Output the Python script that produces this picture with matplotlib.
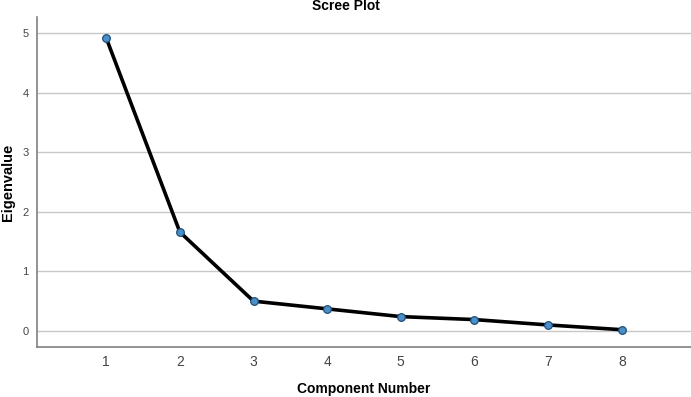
import matplotlib.pyplot as plt

plt.rcParams['font.family'] = ['Liberation Sans', 'DejaVu Sans']

components = [1, 2, 3, 4, 5, 6, 7, 8]
eigenvalues = [4.92, 1.66, 0.50, 0.37, 0.24, 0.19, 0.10, 0.02]
y_ticks = [0, 1, 2, 3, 4, 5]

fig = plt.figure(figsize=(6.91, 3.97), dpi=100)
ax = fig.add_axes([0.0535, 0.126, 0.9465, 0.831])

ax.plot(components, eigenvalues, color='black', linewidth=2.6, zorder=3,
        marker='o', markersize=5.5, markerfacecolor='#4a8fca',
        markeredgecolor='#1f4f78', markeredgewidth=0.9)

ax.set_xlim(0.06, 8.94)
ax.set_ylim(-0.27, 5.27)
ax.set_xticks(components)
ax.set_yticks(y_ticks)
ax.yaxis.grid(True, color='#c8c8c8', linewidth=1)
ax.set_axisbelow(True)
ax.tick_params(length=0, colors='#444444')
ax.tick_params(axis='x', pad=6, labelsize=10)
ax.tick_params(axis='y', pad=6, labelsize=8)

for side in ['top', 'right']:
    ax.spines[side].set_visible(False)
for side in ['left', 'bottom']:
    ax.spines[side].set_color('#808080')
    ax.spines[side].set_linewidth(1.2)

ax.set_xlabel('Component Number', fontsize=10, fontweight='bold')
ax.xaxis.set_label_coords(0.5, -0.105)
ax.set_ylabel('Eigenvalue', fontsize=10.5, fontweight='bold')
ax.yaxis.set_label_coords(-0.034, 0.5)
fig.text(0.5, 0.985, 'Scree Plot', ha='center', va='center',
         fontsize=10, fontweight='bold')

fig.savefig('out.png', dpi=100)
